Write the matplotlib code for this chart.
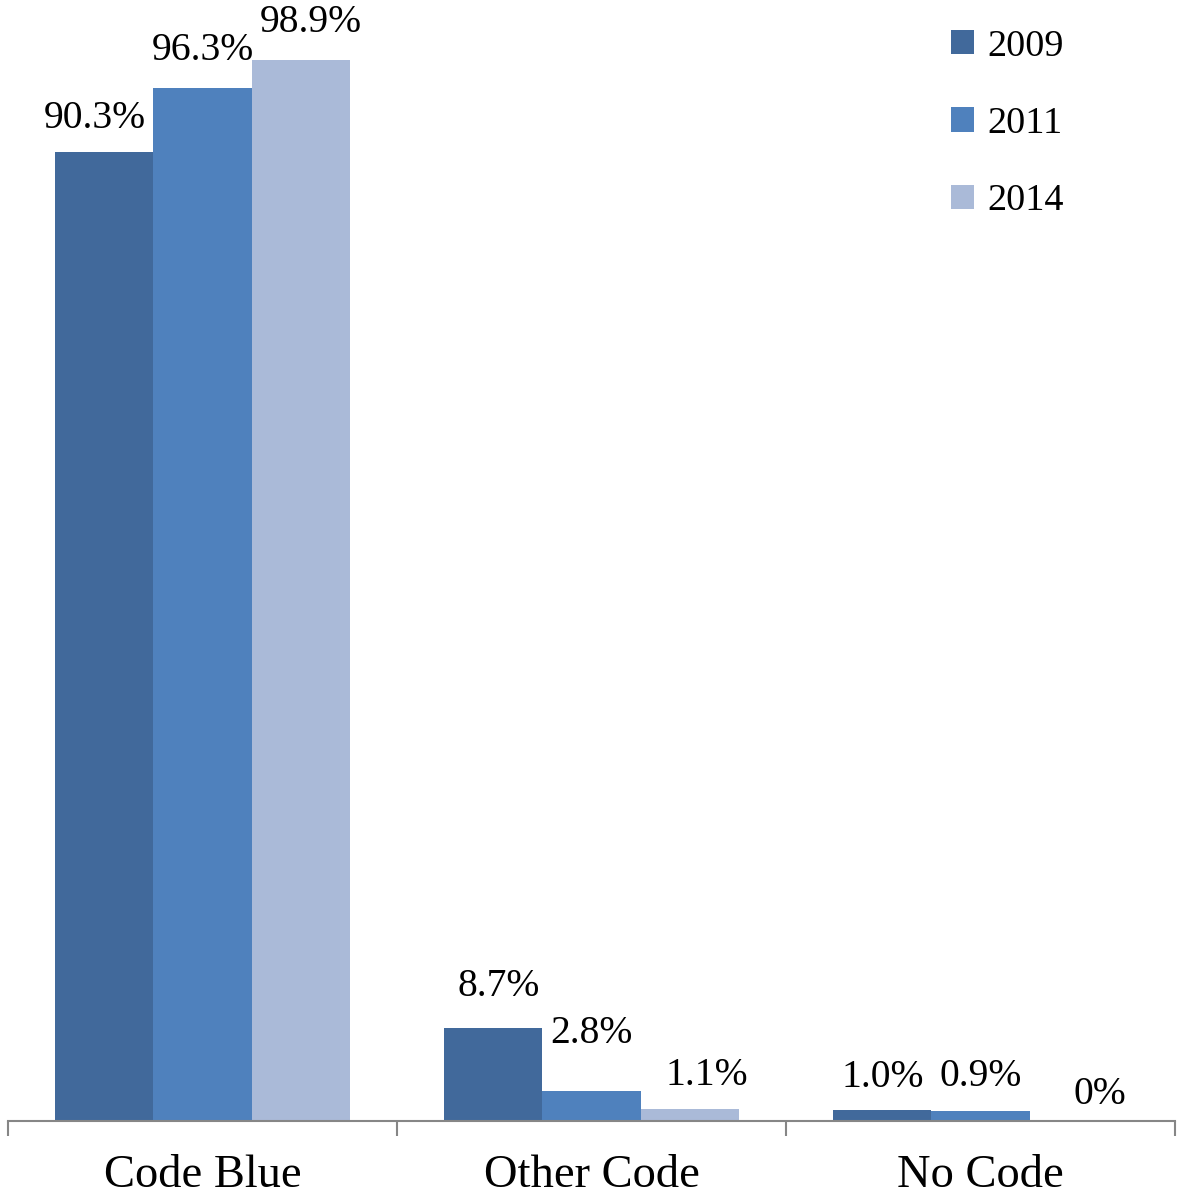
import matplotlib
matplotlib.use("Agg")
import matplotlib.pyplot as plt
import numpy as np

categories = ["Code Blue", "Other Code", "No Code"]
years = ["2009", "2011", "2014"]
v2009 = [90.3, 8.7, 1.0]
v2011 = [96.3, 2.8, 0.9]
v2014 = [98.9, 1.1, 0.0]
labels2009 = ["90.3%", "8.7%", "1.0%"]
labels2011 = ["96.3%", "2.8%", "0.9%"]
labels2014 = ["98.9%", "1.1%", "0%"]

colors = ["#41699B", "#4F81BD", "#AABAD8"]
# label offsets in pixels (dx, dy above bar top)
offs2009 = [(-9, 34), (6, 41), (1, 33)]
offs2011 = [(0, 37), (0, 57), (0, 35)]
offs2014 = [(10, 38), (17, 34), (21, 27)]

plt.rcParams['font.family'] = ['Liberation Serif', 'DejaVu Serif']

W, H = 1179, 1199
fig = plt.figure(figsize=(W / 100, H / 100), dpi=100)
left_px, right_px, base_px = 8, 1175, 1121
ax = fig.add_axes([left_px / W, (H - base_px) / H, (right_px - left_px) / W, base_px / H])

x = np.arange(len(categories))
bw = 0.253
series = [v2009, v2011, v2014]
labs = [labels2009, labels2011, labels2014]
offs = [offs2009, offs2011, offs2014]
for i, (vals, lab, off) in enumerate(zip(series, labs, offs)):
    pos = x + (i - 1) * bw
    ax.bar(pos, vals, width=bw, color=colors[i], label=years[i], edgecolor='none')
    for p, v, t, (dx, dy) in zip(pos, vals, lab, off):
        ax.annotate(t, (p, v), xytext=(dx * 0.72, dy * 0.72), textcoords='offset points',
                    ha='center', va='center', fontsize=28.5, color='black')

ax.set_xlim(-0.5, 2.5)
ax.set_ylim(0, 104.5)
ax.set_yticks([])
for s in ['top', 'right', 'left']:
    ax.spines[s].set_visible(False)
ax.spines['bottom'].set_color('#868686')
ax.spines['bottom'].set_linewidth(1.5)
ax.set_xticks([-0.5, 0.5, 1.5, 2.5], minor=False)
ax.set_xticklabels([])
ax.tick_params(axis='x', which='major', length=11, width=1.5, color='#868686', direction='out')
ax.set_xticks(x, minor=True)
ax.set_xticklabels(categories, minor=True, fontsize=33.5)
ax.tick_params(axis='x', which='minor', length=0, pad=24)

leg = ax.legend(loc='upper left', bbox_to_anchor=(936 / W, 1 - 14 / H), bbox_transform=fig.transFigure,
                frameon=False, fontsize=27.5, handlelength=0.6, handleheight=0.6,
                labelspacing=1.12, handletextpad=0.35, borderaxespad=0)

fig.savefig("out.png", dpi=100)
